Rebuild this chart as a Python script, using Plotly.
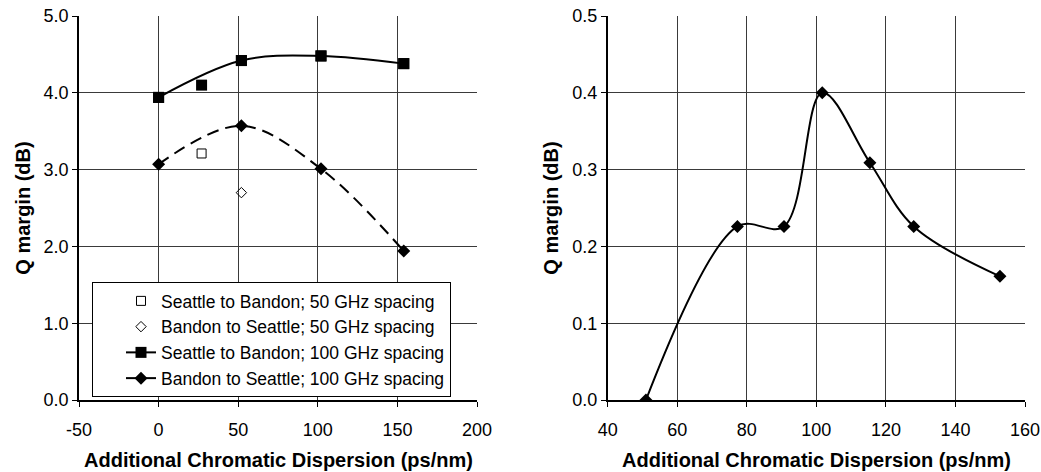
import plotly.graph_objects as go

# ---------------- data (left panel) ----------------
sb50_x = [27]
sb50_y = [3.21]
bs50_x = [52]
bs50_y = [2.70]
sb100_x = [0, 27, 52, 102, 154]
sb100_y = [3.94, 4.10, 4.42, 4.48, 4.38]
sb100_curve_idx = [0, 2, 3, 4]   # points the smoothed curve passes through
bs100_x = [0, 52, 102, 154]
bs100_y = [3.07, 3.57, 3.01, 1.94]

legend_names = [
    "Seattle to Bandon; 50 GHz spacing",
    "Bandon to Seattle; 50 GHz spacing",
    "Seattle to Bandon; 100 GHz spacing",
    "Bandon to Seattle; 100 GHz spacing",
]

# ---------------- data (right panel) ----------------
r_x = [51, 77.3, 90.7, 101.7, 115.4, 128, 152.8]
r_y = [0.0, 0.226, 0.226, 0.40, 0.309, 0.226, 0.161]

left_xticks = [-50, 0, 50, 100, 150, 200]
left_xtext = ["-50", "0", "50", "100", "150", "200"]
left_yticks = [0, 1, 2, 3, 4, 5]
right_xticks = [40, 60, 80, 100, 120, 140, 160]
right_yticks = [0, 0.1, 0.2, 0.3, 0.4, 0.5]

x_title = "Additional Chromatic Dispersion (ps/nm)"
y_title = "Q margin (dB)"

FONT = "Arial, Liberation Sans, sans-serif"
BLACK = "#000000"

fig = go.Figure()

fig.add_trace(go.Scatter(
    x=sb50_x, y=sb50_y, mode="markers", name=legend_names[0],
    marker=dict(symbol="square-open", size=9, color=BLACK, line=dict(width=1)),
    xaxis="x", yaxis="y"))
fig.add_trace(go.Scatter(
    x=bs50_x, y=bs50_y, mode="markers", name=legend_names[1],
    marker=dict(symbol="diamond-open", size=8, color=BLACK, line=dict(width=1)),
    xaxis="x", yaxis="y"))
fig.add_trace(go.Scatter(
    x=[sb100_x[i] for i in sb100_curve_idx], y=[sb100_y[i] for i in sb100_curve_idx],
    mode="lines+markers", name=legend_names[2],
    line=dict(color=BLACK, width=2, shape="spline", smoothing=1),
    marker=dict(symbol="square", size=11, color=BLACK),
    xaxis="x", yaxis="y"))
fig.add_trace(go.Scatter(
    x=sb100_x, y=sb100_y, mode="markers", showlegend=False,
    marker=dict(symbol="square", size=11, color=BLACK),
    xaxis="x", yaxis="y"))
fig.add_trace(go.Scatter(
    x=bs100_x, y=bs100_y, mode="lines+markers", showlegend=False,
    line=dict(color=BLACK, width=2, shape="spline", smoothing=1, dash="12px,7px"),
    marker=dict(symbol="diamond", size=10, color=BLACK),
    xaxis="x", yaxis="y"))
fig.add_trace(go.Scatter(
    x=[None], y=[None], mode="lines+markers", name=legend_names[3],
    line=dict(color=BLACK, width=2),
    marker=dict(symbol="diamond", size=10, color=BLACK),
    xaxis="x", yaxis="y"))

fig.add_trace(go.Scatter(
    x=r_x, y=r_y, mode="lines+markers", showlegend=False,
    line=dict(color=BLACK, width=2, shape="spline", smoothing=1),
    marker=dict(symbol="diamond", size=10, color=BLACK),
    xaxis="x2", yaxis="y2"))

axis_common = dict(
    showgrid=True, gridcolor="#3a3a3a", gridwidth=1,
    showline=True, linecolor=BLACK, linewidth=1.5,
    ticks="outside", ticklen=5, tickcolor=BLACK, tickwidth=1,
    zeroline=False, automargin=False, ticklabeloverflow="allow",
    tickfont=dict(family=FONT, size=18, color=BLACK),
)
title_font = dict(family=FONT, size=20, color=BLACK, weight="bold")

W, H = 1041, 472
L, R, T, B = 79, 16, 16, 72
pw = W - L - R
ph = H - T - B
xd1 = (477 - L) / pw
xd2 = (607.7 - L) / pw

fig.update_layout(
    width=W, height=H,
    margin=dict(l=L, r=R, t=T, b=B, autoexpand=False),
    paper_bgcolor="white", plot_bgcolor="white",
    font=dict(family=FONT, color=BLACK),
    showlegend=True,
    legend=dict(
        x=(92 - L) / pw, y=(400 - 339.5) / ph, xanchor="left", yanchor="middle",
        bgcolor="white", bordercolor=BLACK, borderwidth=1,
        font=dict(family=FONT, size=17.5, color=BLACK),
        tracegroupgap=0, indentation=28,
    ),
    xaxis=dict(domain=[0, xd1], range=[-50, 200], tickvals=left_xticks, ticktext=left_xtext,
               ticklabelstandoff=8, anchor="y", **axis_common),
    yaxis=dict(domain=[0, 1], range=[0, 5], tickvals=left_yticks, tickformat=".1f",
               title=dict(text=y_title, font=title_font, standoff=8),
               anchor="x", **axis_common),
    xaxis2=dict(domain=[xd2, 1], range=[40, 160], tickvals=right_xticks,
                ticklabelstandoff=8, anchor="y2", **axis_common),
    yaxis2=dict(domain=[0, 1], range=[0, 0.5], tickvals=right_yticks, tickformat=".1f",
                title=dict(text=y_title, font=title_font, standoff=8),
                anchor="x2", **axis_common),
)

# x-axis titles placed under each panel
for d in ([0, xd1], [xd2, 1]):
    fig.add_annotation(
        text=x_title, xref="paper", yref="paper",
        x=(d[0] + d[1]) / 2, y=(400 - 460) / ph, xanchor="center", yanchor="middle",
        showarrow=False, font=title_font)

# remove the default 8px page margin so the figure sits at the window's corner
fig.write_html("out.html", config={"displayModeBar": False},
               post_script="document.body.style.margin='0';")
